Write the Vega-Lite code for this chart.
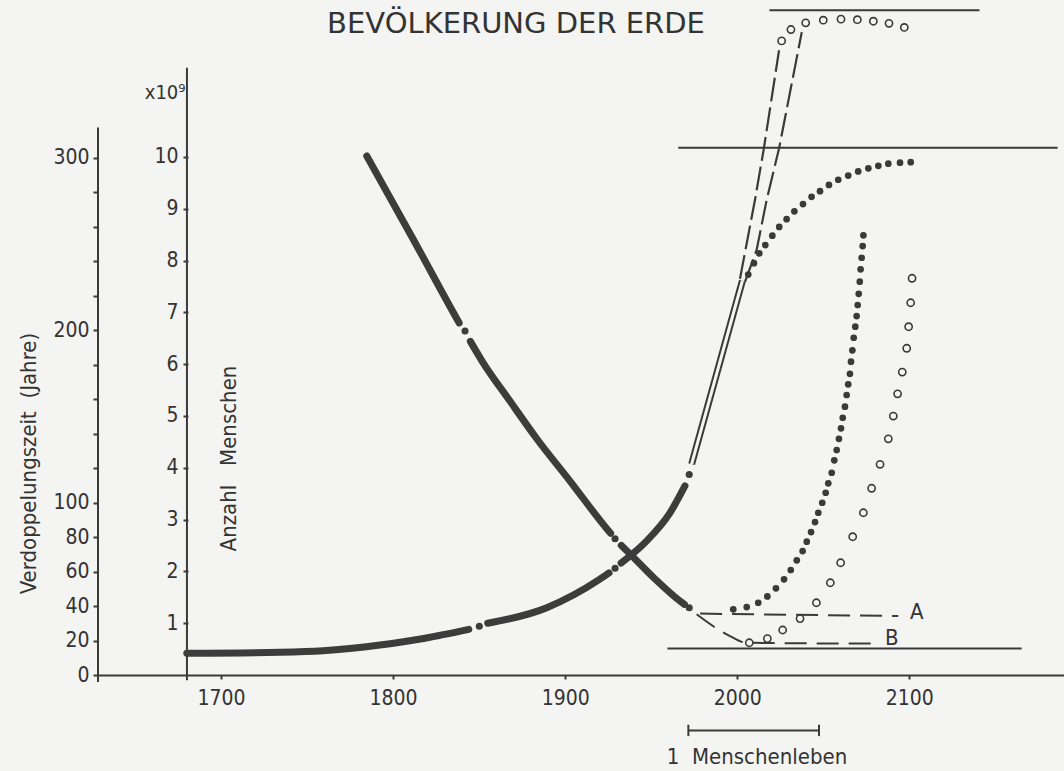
{
  "$schema": "https://vega.github.io/schema/vega-lite/v6.json",
  "width": 966,
  "height": 675,
  "autosize": {"type": "none"},
  "padding": {"left": 98, "top": 0, "right": 0, "bottom": 96},
  "background": "#f4f4f2",
  "view": {"stroke": null},
  "config": {
    "font": "DejaVu Sans Condensed",
    "axis": {"domainColor": "#3a3a3a", "domainWidth": 2, "tickColor": "#3a3a3a", "tickWidth": 2, "labelColor": "#333333", "labelFontSize": 21, "grid": false, "titleFontWeight": "normal", "titleColor": "#333333", "titleFontSize": 22, "labelFont": "DejaVu Sans Condensed", "titleFont": "DejaVu Sans Condensed"},
    "text": {"font": "DejaVu Sans Condensed", "color": "#333333"}
  },
  "title": {"text": "BEVÖLKERUNG DER ERDE", "font": "DejaVu Sans", "fontSize": 29, "fontWeight": "normal", "color": "#333333", "anchor": "middle", "frame": "group", "offset": 0, "dx": -65, "dy": 53, "baseline": "middle"},
  "datasets": {
    "hlines": [
      {"from": 2018.7, "to": 2140.8, "pop": 12.83},
      {"from": 1965.7, "to": 2186.2, "pop": 10.18},
      {"from": 1959.4, "to": 2165.3, "pop": 0.51}
    ],
    "popAxisLine": [{"year": 1680.2, "lo": -0.1, "hi": 11.72}],
    "dtAxisLine": [{"year": 1628.5, "lo": -4, "hi": 317.5}],
    "popCurve": [
      {"year": 1680.1, "pop": 0.42, "seg": 1},
      {"year": 1734.3, "pop": 0.44, "seg": 1},
      {"year": 1759.3, "pop": 0.47, "seg": 1},
      {"year": 1792.4, "pop": 0.58, "seg": 1},
      {"year": 1818.5, "pop": 0.71, "seg": 1},
      {"year": 1844.0, "pop": 0.88, "seg": 1},
      {"year": 1855.0, "pop": 1.0, "seg": 2},
      {"year": 1889.3, "pop": 1.3, "seg": 2},
      {"year": 1920.2, "pop": 1.85, "seg": 2},
      {"year": 1925.5, "pop": 1.97, "seg": 2},
      {"year": 1932.5, "pop": 2.16, "seg": 3},
      {"year": 1947.4, "pop": 2.59, "seg": 3},
      {"year": 1960.9, "pop": 3.13, "seg": 3},
      {"year": 1969.6, "pop": 3.65, "seg": 3}
    ],
    "popDots": [
      {"year": 1850.1, "pop": 0.94},
      {"year": 1929.0, "pop": 2.06},
      {"year": 1972.1, "pop": 3.87}
    ],
    "tube": [
      {"year": 1973.5, "pop": 4.07},
      {"year": 2003.0, "pop": 7.61}
    ],
    "proj": [
      {"year": 2001.6, "pop": 7.65, "line": "L1"},
      {"year": 2010.3, "pop": 9.17, "line": "L1"},
      {"year": 2015.5, "pop": 10.17, "line": "L1"},
      {"year": 2024.3, "pop": 12.06, "line": "L1"},
      {"year": 2004.5, "pop": 7.59, "line": "L2"},
      {"year": 2011.3, "pop": 8.21, "line": "L2"},
      {"year": 2017.1, "pop": 9.17, "line": "L2"},
      {"year": 2024.4, "pop": 10.18, "line": "L2"},
      {"year": 2037.5, "pop": 12.41, "line": "L2"}
    ],
    "satFilled": [
      {"year": 2006.4, "pop": 7.73}, {"year": 2009.7, "pop": 7.95}, {"year": 2012.8, "pop": 8.14}, {"year": 2016.3, "pop": 8.3},
      {"year": 2020.4, "pop": 8.48}, {"year": 2024.4, "pop": 8.65}, {"year": 2028.7, "pop": 8.8}, {"year": 2033.2, "pop": 8.95},
      {"year": 2038.2, "pop": 9.09}, {"year": 2043.2, "pop": 9.23}, {"year": 2048.1, "pop": 9.34}, {"year": 2053.3, "pop": 9.46},
      {"year": 2058.7, "pop": 9.56}, {"year": 2064.5, "pop": 9.64}, {"year": 2070.3, "pop": 9.72}, {"year": 2076.2, "pop": 9.78},
      {"year": 2082.0, "pop": 9.83}, {"year": 2087.8, "pop": 9.87}, {"year": 2094.6, "pop": 9.89}, {"year": 2100.8, "pop": 9.9}
    ],
    "satOpen": [
      {"year": 2025.8, "pop": 12.24}, {"year": 2031.2, "pop": 12.46}, {"year": 2039.8, "pop": 12.59}, {"year": 2050.0, "pop": 12.64},
      {"year": 2060.3, "pop": 12.66}, {"year": 2069.8, "pop": 12.65}, {"year": 2079.1, "pop": 12.62}, {"year": 2088.2, "pop": 12.58},
      {"year": 2097.1, "pop": 12.5}
    ],
    "life": [{"year": 1971.6, "year2": 2047.5, "pop": -1.07}],
    "lifeTicks": [{"year": 1971.6, "lo": -0.96, "hi": -1.18}, {"year": 2047.5, "lo": -0.96, "hi": -1.18}],
    "notes": [
      {"year": 2011.5, "pop": -1.58, "text": "1\u00a0\u00a0Menschenleben"}
    ],
    "unit": [{"year": 1667.5, "pop": 11.24, "text": "x10⁹"}],
    "dtCurve": [
      {"year": 1784.7, "dt": 301, "seg": 1},
      {"year": 1811.6, "dt": 252.9, "seg": 1},
      {"year": 1837.1, "dt": 206.5, "seg": 1},
      {"year": 1838.4, "dt": 204.2, "seg": 1},
      {"year": 1844.9, "dt": 193.5, "seg": 2},
      {"year": 1851.7, "dt": 182.1, "seg": 2},
      {"year": 1867.9, "dt": 158.9, "seg": 2},
      {"year": 1883.6, "dt": 136.9, "seg": 2},
      {"year": 1902.8, "dt": 112.5, "seg": 2},
      {"year": 1924.3, "dt": 84.7, "seg": 2},
      {"year": 1926.4, "dt": 82.2, "seg": 2},
      {"year": 1932.6, "dt": 75.2, "seg": 3},
      {"year": 1937.7, "dt": 70.2, "seg": 3},
      {"year": 1952.2, "dt": 55.7, "seg": 3},
      {"year": 1966.7, "dt": 42.9, "seg": 3},
      {"year": 1969.3, "dt": 41.0, "seg": 3}
    ],
    "dtDots": [
      {"year": 1841.8, "dt": 199.5},
      {"year": 1929.0, "dt": 79.0},
      {"year": 1972.1, "dt": 39.0}
    ],
    "dtDash": [
      {"year": 1978.4, "dt": 35.6, "line": "A"},
      {"year": 2093.6, "dt": 34.2, "line": "A"},
      {"year": 1976.4, "dt": 35.2, "line": "B"},
      {"year": 1985.9, "dt": 28.4, "line": "B"},
      {"year": 1995.8, "dt": 22.6, "line": "B"},
      {"year": 2005.5, "dt": 18.7, "line": "B"},
      {"year": 2080.1, "dt": 18.2, "line": "B"}
    ],
    "dtLabels": [
      {"year": 2104.3, "dt": 36.3, "text": "A"},
      {"year": 2089.8, "dt": 21.6, "text": "B"}
    ],
    "dtFilled": [
      {"year": 1997.7, "dt": 38.1}, {"year": 2005.5, "dt": 39.4}, {"year": 2012.2, "dt": 41.9}, {"year": 2017.5, "dt": 45.6},
      {"year": 2022.5, "dt": 50.3}, {"year": 2027.2, "dt": 55.5}, {"year": 2031.1, "dt": 60.9}, {"year": 2034.6, "dt": 66.5},
      {"year": 2038.0, "dt": 71.9}, {"year": 2040.4, "dt": 77.3}, {"year": 2042.9, "dt": 82.9}, {"year": 2045.2, "dt": 88.7},
      {"year": 2047.1, "dt": 94.1}, {"year": 2049.4, "dt": 99.9}, {"year": 2051.4, "dt": 105.7}, {"year": 2052.9, "dt": 111.2},
      {"year": 2054.9, "dt": 117.3}, {"year": 2056.4, "dt": 124.5}, {"year": 2057.8, "dt": 130.5}, {"year": 2059.1, "dt": 137.0},
      {"year": 2060.3, "dt": 143.1}, {"year": 2061.3, "dt": 149.2}, {"year": 2062.6, "dt": 155.6}, {"year": 2063.6, "dt": 162.4},
      {"year": 2064.5, "dt": 168.6}, {"year": 2065.5, "dt": 174.7}, {"year": 2066.1, "dt": 181.7}, {"year": 2066.9, "dt": 188.3},
      {"year": 2067.7, "dt": 195.6}, {"year": 2068.6, "dt": 202.0}, {"year": 2069.4, "dt": 208.2}, {"year": 2070.0, "dt": 214.6},
      {"year": 2070.6, "dt": 221.1}, {"year": 2071.2, "dt": 228.1}, {"year": 2071.7, "dt": 235.3}, {"year": 2072.3, "dt": 242.0},
      {"year": 2072.9, "dt": 248.8}, {"year": 2073.3, "dt": 255.0}
    ],
    "dtOpen": [
      {"year": 2007.0, "dt": 18.7}, {"year": 2017.5, "dt": 21.1}, {"year": 2026.4, "dt": 26.1}, {"year": 2036.5, "dt": 32.7},
      {"year": 2046.0, "dt": 41.9}, {"year": 2054.1, "dt": 53.5}, {"year": 2060.1, "dt": 65.1}, {"year": 2067.1, "dt": 80.2},
      {"year": 2073.3, "dt": 94.1}, {"year": 2078.1, "dt": 108.3}, {"year": 2083.0, "dt": 122.2}, {"year": 2087.8, "dt": 137.0},
      {"year": 2090.7, "dt": 150.2}, {"year": 2093.2, "dt": 163.1}, {"year": 2095.9, "dt": 175.7}, {"year": 2098.5, "dt": 189.5},
      {"year": 2099.6, "dt": 202.0}, {"year": 2100.8, "dt": 215.9}, {"year": 2101.6, "dt": 230.1}
    ]
  },
  "layer": [
    {
      "layer": [
        {
          "data": {"name": "hlines"},
          "mark": {"type": "rule", "color": "#3a3a3a", "strokeWidth": 2},
          "encoding": {
            "x": {"field": "from", "type": "quantitative", "scale": {"domain": [1628.5, 2189.9], "nice": false, "zero": false}, "title": null,
                  "axis": {"values": [1700, 1800, 1900, 2000, 2100], "format": "d", "tickSize": 4, "labelPadding": 8, "domain": true}},
            "x2": {"field": "to"},
            "y": {"field": "pop", "type": "quantitative", "scale": {"domain": [0, 13.03], "nice": false, "zero": false},
                  "axis": {"title": "Anzahl\u00a0\u00a0\u00a0Menschen", "orient": "left", "offset": -90, "values": [1, 2, 3, 4, 5, 6, 7, 8, 9, 10], "format": "d", "tickSize": 5, "labelPadding": 5, "domain": false,
                           "titleAngle": 270, "titleX": 40, "titleY": 458, "titleBaseline": "middle", "titleAlign": "center"}}
          }
        },
        {
          "data": {"name": "popAxisLine"},
          "mark": {"type": "rule", "color": "#3a3a3a", "strokeWidth": 2},
          "encoding": {
            "x": {"field": "year", "type": "quantitative", "title": null},
            "y": {"field": "lo", "type": "quantitative"},
            "y2": {"field": "hi"}
          }
        },
        {
          "data": {"name": "popCurve"},
          "mark": {"type": "line", "color": "#3c3c3c", "strokeWidth": 7, "strokeCap": "round", "interpolate": "monotone"},
          "encoding": {
            "x": {"field": "year", "type": "quantitative", "title": null},
            "y": {"field": "pop", "type": "quantitative"},
            "detail": {"field": "seg"}
          }
        },
        {
          "data": {"name": "popDots"},
          "mark": {"type": "point", "shape": "circle", "filled": true, "color": "#3c3c3c", "size": 50, "opacity": 1},
          "encoding": {
            "x": {"field": "year", "type": "quantitative", "title": null},
            "y": {"field": "pop", "type": "quantitative"}
          }
        },
        {
          "data": {"name": "tube"},
          "mark": {"type": "line", "color": "#3a3a3a", "strokeWidth": 7, "strokeCap": "butt"},
          "encoding": {
            "x": {"field": "year", "type": "quantitative", "title": null},
            "y": {"field": "pop", "type": "quantitative"}
          }
        },
        {
          "data": {"name": "tube"},
          "mark": {"type": "line", "color": "#f4f4f2", "strokeWidth": 3, "strokeCap": "butt"},
          "encoding": {
            "x": {"field": "year", "type": "quantitative", "title": null},
            "y": {"field": "pop", "type": "quantitative"}
          }
        },
        {
          "data": {"name": "proj"},
          "mark": {"type": "line", "color": "#3a3a3a", "strokeWidth": 2.2, "strokeDash": [24, 6], "interpolate": "linear"},
          "encoding": {
            "x": {"field": "year", "type": "quantitative", "title": null},
            "y": {"field": "pop", "type": "quantitative"},
            "detail": {"field": "line"}
          }
        },
        {
          "data": {"name": "satFilled"},
          "mark": {"type": "point", "shape": "circle", "filled": true, "color": "#3a3a3a", "size": 45, "opacity": 1},
          "encoding": {
            "x": {"field": "year", "type": "quantitative", "title": null},
            "y": {"field": "pop", "type": "quantitative"}
          }
        },
        {
          "data": {"name": "satOpen"},
          "mark": {"type": "point", "shape": "circle", "filled": false, "color": "#3a3a3a", "size": 52, "strokeWidth": 1.6, "opacity": 1},
          "encoding": {
            "x": {"field": "year", "type": "quantitative", "title": null},
            "y": {"field": "pop", "type": "quantitative"}
          }
        },
        {
          "data": {"name": "life"},
          "mark": {"type": "rule", "color": "#3a3a3a", "strokeWidth": 2},
          "encoding": {
            "x": {"field": "year", "type": "quantitative", "title": null},
            "x2": {"field": "year2"},
            "y": {"field": "pop", "type": "quantitative"}
          }
        },
        {
          "data": {"name": "lifeTicks"},
          "mark": {"type": "rule", "color": "#3a3a3a", "strokeWidth": 2},
          "encoding": {
            "x": {"field": "year", "type": "quantitative", "title": null},
            "y": {"field": "lo", "type": "quantitative"},
            "y2": {"field": "hi"}
          }
        },
        {
          "data": {"name": "notes"},
          "mark": {"type": "text", "fontSize": 22, "align": "center", "baseline": "middle"},
          "encoding": {
            "x": {"field": "year", "type": "quantitative", "title": null},
            "y": {"field": "pop", "type": "quantitative"},
            "text": {"field": "text"}
          }
        },
        {
          "data": {"name": "unit"},
          "mark": {"type": "text", "fontSize": 20, "align": "center", "baseline": "middle"},
          "encoding": {
            "x": {"field": "year", "type": "quantitative", "title": null},
            "y": {"field": "pop", "type": "quantitative"},
            "text": {"field": "text"}
          }
        }
      ]
    },
    {
      "layer": [
        {
          "data": {"name": "dtAxisLine"},
          "mark": {"type": "rule", "color": "#3a3a3a", "strokeWidth": 2},
          "encoding": {
            "x": {"field": "year", "type": "quantitative", "title": null},
            "y": {"field": "lo", "type": "quantitative", "scale": {"domain": [0, 391.5], "nice": false, "zero": false},
                  "axis": {"title": "Verdoppelungszeit\u00a0\u00a0(Jahre)", "orient": "left", "offset": 0, "values": [0, 20, 40, 60, 80, 100, 120, 140, 160, 180, 200, 220, 240, 260, 280, 300],
                           "labelExpr": "indexof([0,20,40,60,80,100,200,300], datum.value) < 0 ? '' : datum.label", "format": "d",
                           "tickSize": 5, "labelPadding": 4, "domain": false,
                           "titleAngle": 270, "titleX": -70, "titleY": 463, "titleBaseline": "middle", "titleAlign": "center"}},
            "y2": {"field": "hi"}
          }
        },
        {
          "data": {"name": "dtCurve"},
          "mark": {"type": "line", "color": "#3c3c3c", "strokeWidth": 7, "strokeCap": "round", "interpolate": "monotone"},
          "encoding": {
            "x": {"field": "year", "type": "quantitative", "title": null},
            "y": {"field": "dt", "type": "quantitative"},
            "detail": {"field": "seg"}
          }
        },
        {
          "data": {"name": "dtDots"},
          "mark": {"type": "point", "shape": "circle", "filled": true, "color": "#3c3c3c", "size": 50, "opacity": 1},
          "encoding": {
            "x": {"field": "year", "type": "quantitative", "title": null},
            "y": {"field": "dt", "type": "quantitative"}
          }
        },
        {
          "data": {"name": "dtDash"},
          "mark": {"type": "line", "color": "#3a3a3a", "strokeWidth": 2, "strokeDash": [22, 10], "interpolate": "monotone"},
          "encoding": {
            "x": {"field": "year", "type": "quantitative", "title": null},
            "y": {"field": "dt", "type": "quantitative"},
            "detail": {"field": "line"}
          }
        },
        {
          "data": {"name": "dtFilled"},
          "mark": {"type": "point", "shape": "circle", "filled": true, "color": "#3a3a3a", "size": 45, "opacity": 1},
          "encoding": {
            "x": {"field": "year", "type": "quantitative", "title": null},
            "y": {"field": "dt", "type": "quantitative"}
          }
        },
        {
          "data": {"name": "dtOpen"},
          "mark": {"type": "point", "shape": "circle", "filled": false, "color": "#3a3a3a", "size": 52, "strokeWidth": 1.6, "opacity": 1},
          "encoding": {
            "x": {"field": "year", "type": "quantitative", "title": null},
            "y": {"field": "dt", "type": "quantitative"}
          }
        },
        {
          "data": {"name": "dtLabels"},
          "mark": {"type": "text", "fontSize": 22, "align": "center", "baseline": "middle"},
          "encoding": {
            "x": {"field": "year", "type": "quantitative", "title": null},
            "y": {"field": "dt", "type": "quantitative"},
            "text": {"field": "text"}
          }
        }
      ]
    }
  ],
  "resolve": {"scale": {"y": "independent"}}
}
